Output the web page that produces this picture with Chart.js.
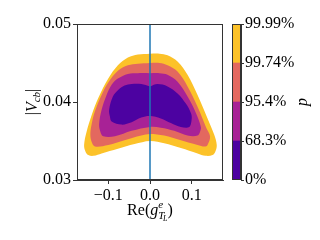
<!DOCTYPE html>
<html>
<head>
<meta charset="utf-8">
<script src="https://cdn.jsdelivr.net/npm/chart.js@4"></script>
<style>
  html, body { margin: 0; padding: 0; background: #fff; }
  #wrap { position: relative; width: 320px; height: 240px; }
  #main { position: absolute; left: 0; top: 0; }
  #cbar { position: absolute; left: 220px; top: 0; }
</style>
</head>
<body>
<div id="wrap">
  <canvas id="main" width="320" height="240"></canvas>
  <canvas id="cbar" width="100" height="240"></canvas>
</div>
<script>
// contour boundaries: Re(g) on x, |Vcb| on y
const c9999X = [0, -0.029, -0.053, -0.077, -0.100, -0.124, -0.140, -0.152, -0.158, -0.155, -0.148, -0.135, -0.116, -0.077, -0.037, 0, 0.034, 0.074, 0.114, 0.133, 0.150, 0.157, 0.160, 0.154, 0.138, 0.114, 0.090, 0.066, 0.042, 0.023];
const c9999Y = [0.0462, 0.0461, 0.0457, 0.0447, 0.0430, 0.0405, 0.0383, 0.0362, 0.0345, 0.0337, 0.0332, 0.0331, 0.0334, 0.0340, 0.0346, 0.0350, 0.0347, 0.0341, 0.0334, 0.0331, 0.0332, 0.0337, 0.0345, 0.0358, 0.0379, 0.0409, 0.0435, 0.0452, 0.0460, 0.0462];

const c9974X = [0, -0.029, -0.053, -0.077, -0.100, -0.116, -0.132, -0.140, -0.143, -0.140, -0.132, -0.100, -0.061, -0.021, 0, 0.034, 0.074, 0.114, 0.131, 0.138, 0.144, 0.134, 0.114, 0.090, 0.066, 0.042, 0.023];
const c9974Y = [0.0450, 0.0449, 0.0447, 0.0440, 0.0425, 0.0409, 0.0388, 0.0371, 0.0358, 0.0349, 0.0343, 0.0345, 0.0351, 0.0357, 0.0359, 0.0357, 0.0351, 0.0345, 0.0343, 0.0345, 0.0356, 0.0368, 0.0394, 0.0420, 0.0439, 0.0447, 0.0450];

const c954X = [0, -0.029, -0.053, -0.077, -0.092, -0.104, -0.116, -0.122, -0.119, -0.112, -0.084, -0.044, 0, 0.026, 0.058, 0.090, 0.114, 0.120, 0.122, 0.110, 0.090, 0.066, 0.042, 0.023];
const c954Y = [0.0437, 0.0437, 0.0436, 0.0430, 0.0422, 0.0409, 0.0390, 0.0371, 0.0362, 0.0356, 0.0356, 0.0363, 0.0368, 0.0367, 0.0363, 0.0357, 0.0357, 0.0362, 0.0368, 0.0386, 0.0407, 0.0426, 0.0435, 0.0437];

const c683X = [0, -0.021, -0.044, -0.061, -0.077, -0.089, -0.098, -0.096, -0.092, -0.068, -0.044, -0.021, 0, 0.026, 0.050, 0.074, 0.094, 0.100, 0.098, 0.086, 0.066, 0.042, 0.018];
const c683Y = [0.0420, 0.0423, 0.0423, 0.0421, 0.0415, 0.0407, 0.0390, 0.0381, 0.0375, 0.0371, 0.0374, 0.0380, 0.0382, 0.0379, 0.0373, 0.0368, 0.0368, 0.0379, 0.0386, 0.0398, 0.0411, 0.0420, 0.0423];

const xRange = [-0.175, 0.175];
const yRange = [0.03, 0.05];
const xTicks = [-0.1, 0.0, 0.1];
const yTicks = [0.03, 0.04, 0.05];
const refLineX = 0;

const pLabels = ["0%", "68.3%", "95.4%", "99.74%", "99.99%"];
const bandColors = ["#4c02a1", "#a82296", "#e3685f", "#fcc229"];

const SERIF = "'Liberation Serif', 'DejaVu Serif', serif";
const tickFont = { family: SERIF, size: 16 };
Chart.defaults.font.family = SERIF;
Chart.defaults.font.size = 16;
Chart.defaults.color = "#000";

function toPoints(xs, ys) {
    const pts = xs.map((x, i) => ({ x: x, y: ys[i] }));
    pts.push({ x: xs[0], y: ys[0] });
    return pts;
}

function band(xs, ys, color, order) {
    return {
        data: toPoints(xs, ys),
        showLine: true,
        fill: "shape",
        backgroundColor: color,
        borderColor: color,
        borderWidth: 0,
        pointRadius: 0,
        tension: 0.35,
        order: order,
    };
}

// draws sequences of text pieces (sub/superscripts) centred on x
function drawRich(ctx, parts, x, y) {
    let total = 0;
    parts.forEach((p) => {
        ctx.font = p.font;
        p.w = p.stack ? 0 : ctx.measureText(p.t).width;
        if (!p.stack) total += p.w;
    });
    let cx = x - total / 2;
    let last = 0;
    parts.forEach((p) => {
        ctx.font = p.font;
        if (p.stack) {
            ctx.fillText(p.t, last, y + p.dy);
        } else {
            last = cx;
            ctx.fillText(p.t, cx, y + p.dy);
            cx += p.w;
        }
    });
}

const frame = {
    id: "frame",
    afterDatasetsDraw(chart) {
        const a = chart.chartArea;
        const ctx = chart.ctx;
        ctx.save();
        ctx.strokeStyle = "#333";
        ctx.lineWidth = 1;
        ctx.strokeRect(Math.round(a.left) + 0.5, Math.round(a.top) + 0.5, Math.round(a.right - a.left) - 1, Math.round(a.bottom - a.top) - 1);
        ctx.restore();
    },
};

const axisTitles = {
    id: "axisTitles",
    afterDraw(chart) {
        const ctx = chart.ctx;
        const a = chart.chartArea;
        const n = "16px " + SERIF;
        const it = "italic 16px " + SERIF;
        const s = "italic 11px " + SERIF;
        const ss = "italic 8px " + SERIF;
        ctx.save();
        ctx.fillStyle = "#000";
        ctx.textBaseline = "alphabetic";
        ctx.textAlign = "left";
        // x title: Re(g^e_{T_L})
        drawRich(ctx, [
            { t: "Re(", font: n, dy: 0 },
            { t: "g", font: it, dy: 0 },
            { t: "e", font: s, dy: -7 },
            { t: "T", font: s, dy: 4, stack: true },
            { t: "L", font: ss, dy: 6 },
            { t: ")", font: n, dy: 0 },
        ], (a.left + a.right) / 2, 215);
        // y title: |V_cb|
        ctx.translate(37, (a.top + a.bottom) / 2);
        ctx.rotate(-Math.PI / 2);
        drawRich(ctx, [
            { t: "|", font: n, dy: 0 },
            { t: "V", font: it, dy: 0 },
            { t: "cb", font: s, dy: 3 },
            { t: "|", font: n, dy: 0 },
        ], 0, 0);
        ctx.restore();
    },
};

const pTitle = {
    id: "pTitle",
    afterDraw(chart) {
        const ctx = chart.ctx;
        const a = chart.chartArea;
        ctx.save();
        ctx.fillStyle = "#000";
        ctx.font = "italic 16px " + SERIF;
        ctx.textAlign = "center";
        ctx.textBaseline = "alphabetic";
        ctx.translate(87, (a.top + a.bottom) / 2);
        ctx.rotate(-Math.PI / 2);
        ctx.fillText("p", 0, 0);
        ctx.restore();
    },
};

new Chart(document.getElementById("main"), {
    type: "scatter",
    data: {
        datasets: [
            {
                data: [{ x: refLineX, y: yRange[0] }, { x: refLineX, y: yRange[1] }],
                showLine: true,
                fill: false,
                borderColor: "#1f77b4",
                borderWidth: 1.5,
                pointRadius: 0,
                order: 0,
            },
            band(c683X, c683Y, bandColors[0], 1),
            band(c954X, c954Y, bandColors[1], 2),
            band(c9974X, c9974Y, bandColors[2], 3),
            band(c9999X, c9999Y, bandColors[3], 4),
        ],
    },
    options: {
        responsive: false,
        animation: false,
        devicePixelRatio: 1,
        layout: { padding: { left: 0, right: 97, top: 24, bottom: 0 } },
        plugins: { legend: { display: false }, tooltip: { enabled: false } },
        scales: {
            x: {
                type: "linear",
                min: xRange[0],
                max: xRange[1],
                afterBuildTicks: (axis) => { axis.ticks = xTicks.map((v) => ({ value: v })); },
                afterFit: (axis) => { axis.height = 60; },
                ticks: {
                    font: tickFont,
                    padding: 2,
                    maxRotation: 0,
                    callback: (v) => (v < 0 ? "\u2212" : "") + Math.abs(v).toFixed(1),
                },
                grid: { drawOnChartArea: false, tickLength: 4, color: "#333" },
                border: { color: "#333" },
            },
            y: {
                type: "linear",
                min: yRange[0],
                max: yRange[1],
                afterBuildTicks: (axis) => { axis.ticks = yTicks.map((v) => ({ value: v })); },
                afterFit: (axis) => { axis.width = 77; },
                ticks: {
                    font: tickFont,
                    padding: 2,
                    callback: (v) => v.toFixed(2),
                },
                grid: { drawOnChartArea: false, tickLength: 4, color: "#333" },
                border: { color: "#333" },
            },
        },
    },
    plugins: [frame, axisTitles],
});

new Chart(document.getElementById("cbar"), {
    type: "bar",
    data: {
        labels: [""],
        datasets: bandColors.map((c, i) => ({
            data: [[i, i + 1]],
            backgroundColor: c,
            borderWidth: 0,
            grouped: false,
            barPercentage: 1,
            categoryPercentage: 1,
        })),
    },
    options: {
        responsive: false,
        animation: false,
        devicePixelRatio: 1,
        layout: { padding: { left: 12, right: 0, top: 24, bottom: 60 } },
        plugins: { legend: { display: false }, tooltip: { enabled: false } },
        scales: {
            x: { display: false },
            y: {
                position: "right",
                min: 0,
                max: pLabels.length - 1,
                afterBuildTicks: (axis) => { axis.ticks = pLabels.map((_, i) => ({ value: i })); },
                afterFit: (axis) => { axis.width = 79; },
                ticks: { font: tickFont, padding: 1, callback: (v) => pLabels[v] },
                grid: { drawOnChartArea: false, tickLength: 3, color: "#333" },
                border: { color: "#333" },
            },
        },
    },
    plugins: [frame, pTitle],
});
</script>
</body>
</html>
